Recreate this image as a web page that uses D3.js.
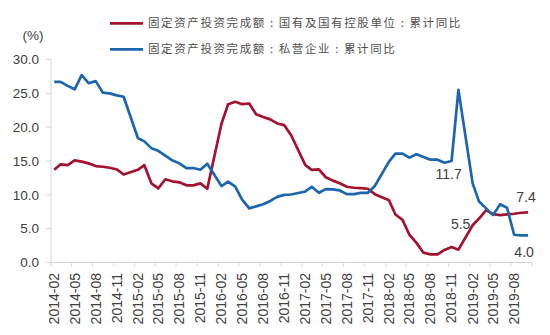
<!DOCTYPE html>
<html><head><meta charset="utf-8">
<script src="https://cdn.jsdelivr.net/npm/d3@7"></script>
<style>
html,body{margin:0;padding:0;background:#fff;}
svg{display:block;font-family:"Liberation Sans",Arial,sans-serif;}
</style></head>
<body><svg id="c" width="550" height="335"></svg>
<script>
const months = [
"2014-02","2014-03","2014-04","2014-05","2014-06","2014-07","2014-08","2014-09","2014-10","2014-11","2014-12",
"2015-02","2015-03","2015-04","2015-05","2015-06","2015-07","2015-08","2015-09","2015-10","2015-11","2015-12",
"2016-02","2016-03","2016-04","2016-05","2016-06","2016-07","2016-08","2016-09","2016-10","2016-11","2016-12",
"2017-02","2017-03","2017-04","2017-05","2017-06","2017-07","2017-08","2017-09","2017-10","2017-11","2017-12",
"2018-02","2018-03","2018-04","2018-05","2018-06","2018-07","2018-08","2018-09","2018-10","2018-11","2018-12",
"2019-02","2019-03","2019-04","2019-05","2019-06","2019-07","2019-08","2019-09","2019-10"];
const stateOwned = [
13.7,14.5,14.4,15.1,14.9,14.65,14.25,14.15,14.0,13.75,13.0,
13.7,14.4,11.7,10.95,12.3,12.0,11.85,11.4,11.4,11.7,10.9,
20.5,23.4,23.75,23.4,23.5,21.9,21.5,21.15,20.55,20.3,18.8,
14.4,13.7,13.75,12.6,12.1,11.7,11.2,11.05,11.0,10.9,10.1,
9.2,7.1,6.3,4.1,2.9,1.45,1.2,1.2,1.85,2.3,1.9,
5.5,6.5,7.75,7.15,7.0,7.1,7.2,7.35,7.4];
const privateEnt = [
26.7,26.7,26.1,25.6,27.7,26.5,26.8,25.1,25.0,24.7,24.5,
18.4,17.9,16.9,16.5,15.8,15.1,14.65,13.96,13.96,13.7,14.6,
11.3,11.95,11.2,9.3,8.0,8.3,8.6,9.1,9.7,10.0,10.05,
10.5,11.2,10.3,10.85,10.8,10.65,10.1,10.1,10.3,10.3,11.3,
14.9,16.1,16.1,15.5,16.0,15.6,15.2,15.2,14.75,15.0,25.5,
11.7,9.0,8.0,7.0,8.6,8.1,4.1,4.0,4.0];
const tickLabels = ["2014-02","2014-05","2014-08","2014-11","2015-02","2015-05","2015-08","2015-11",
"2016-02","2016-05","2016-08","2016-11","2017-02","2017-05","2017-08","2017-11",
"2018-02","2018-05","2018-08","2018-11","2019-02","2019-05","2019-08"];
const yTicks = [0,5,10,15,20,25,30];
const seriesNames = ["固定资产投资完成额:国有及国有控股单位:累计同比","固定资产投资完成额:私营企业:累计同比"];
const seriesColors = ["#A5122F","#1B66AF"];
const annotations = [
  {text:"11.7", month:"2019-02", value:11.7},
  {text:"5.5", month:"2019-02", value:5.5},
  {text:"7.4", month:"2019-10", value:7.4},
  {text:"4.0", month:"2019-10", value:4.0}];

const parse = d3.timeParse("%Y-%m");
const mid = s => d3.timeDay.offset(parse(s), 14);
const svg = d3.select("#c");
const x = d3.scaleTime().domain([parse("2014-02"), parse("2019-11")]).range([51, 532]);
const y = d3.scaleLinear().domain([0,30]).range([262.5, 59.5]);
const axisColor = "#d6d6d6", textColor = "#404040";

svg.append("line").attr("x1",51).attr("x2",51).attr("y1",y(30)).attr("y2",y(0)).attr("stroke",axisColor);
svg.append("line").attr("x1",51).attr("x2",532).attr("y1",y(0)).attr("y2",y(0)).attr("stroke",axisColor);
const yg = svg.append("g");
yTicks.forEach(v=>{
  yg.append("line").attr("x1",46).attr("x2",51).attr("y1",y(v)).attr("y2",y(v)).attr("stroke",axisColor);
  yg.append("text").attr("x",39).attr("y",y(v)).attr("dy","0.35em").attr("text-anchor","end")
    .attr("font-size",13.5).attr("fill",textColor).text(v.toFixed(1));
});
svg.append("text").attr("x",33).attr("y",40).attr("text-anchor","middle").attr("font-size",13.5)
  .attr("fill",textColor).text("(%)");
const tickDates = tickLabels.map(parse).concat([parse("2019-11")]);
tickDates.forEach(d=>{
  svg.append("line").attr("x1",x(d)).attr("x2",x(d)).attr("y1",y(0)).attr("y2",y(0)+4).attr("stroke",axisColor);
});
tickLabels.forEach(s=>{
  const xx = x(mid(s));
  svg.append("text").attr("transform",`translate(${xx},273) rotate(-90)`).attr("dy","0.35em")
    .attr("text-anchor","end").attr("font-size",14).attr("fill",textColor).text(s);
});
const line = d3.line().x((d,i)=>x(mid(months[i]))).y(d=>y(d));
[stateOwned, privateEnt].forEach((s,k)=>{
  svg.append("path").datum(s).attr("d",line).attr("fill","none").attr("stroke",seriesColors[k])
    .attr("stroke-width",2.7).attr("stroke-linejoin","round");
});
const annPos = [[-24,-4],[-12,4],[-2,-10],[-4,22]];
annotations.forEach((a,i)=>{
  svg.append("text").attr("x",x(mid(a.month))+annPos[i][0]).attr("y",y(a.value)+annPos[i][1])
    .attr("text-anchor","middle").attr("font-size",14).attr("fill",textColor).text(a.text);
});
seriesNames.forEach((n,k)=>{
  const ly = 23.3 + k*26;
  svg.append("line").attr("x1",110).attr("x2",143).attr("y1",ly).attr("y2",ly)
    .attr("stroke",seriesColors[k]).attr("stroke-width",2.7);
  const t = svg.append("text").attr("x",148).attr("y",ly).attr("dy","0.36em").attr("font-size",11.5)
    .attr("letter-spacing","1.6px").attr("fill","#505050")
    .attr("font-family","'Noto Sans CJK SC',sans-serif");
  n.split(":").forEach((part,j)=>{
    if (j>0) t.append("tspan").attr("dx",4).text(":");
    t.append("tspan").attr("dx", j>0 ? 4 : 0).text(part);
  });
});
</script></body></html>
